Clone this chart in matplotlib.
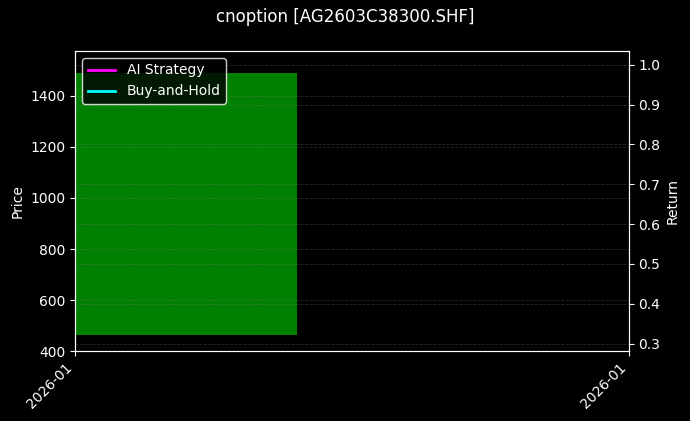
import numpy as np
import matplotlib
matplotlib.use("Agg")
import matplotlib.pyplot as plt
import matplotlib.dates as mdates
from datetime import datetime, timedelta

symbol = "AG2603C38300.SHF"
dates = [datetime(2026, 1, 5)]
opens = [465.0]
closes = [1490.0]
ai_returns = []
bh_returns = []

plt.style.use("dark_background")
fig, ax = plt.subplots(figsize=(6.9, 4.21), dpi=100)
fig.subplots_adjust(left=0.109, right=0.911, top=0.879, bottom=0.166)

x = mdates.date2num(dates)
lo = np.minimum(opens, closes)
hi = np.maximum(opens, closes)
ax.bar(x, hi - lo, bottom=lo, width=0.8, color="green")
ax.set_ylabel("Price")
ax.set_ylim(400, 1576)
ax.grid(True, linestyle="--", color="gray", alpha=0.3, linewidth=0.6)

ax2 = ax.twinx()
ax2.plot(dates[:len(ai_returns)], ai_returns, color="magenta", linewidth=2, label="AI Strategy")
ax2.plot(dates[:len(bh_returns)], bh_returns, color="cyan", linewidth=2, label="Buy-and-Hold")
ax2.set_ylabel("Return")
ax2.set_ylim(0.281, 1.035)
ax2.grid(True, linestyle="--", color="gray", alpha=0.3, linewidth=0.6)

x0 = x[0]
ax.set_xlim(x0, x0 + 1)
ax.set_xticks([x0, x0 + 1])
ax.xaxis.set_major_formatter(mdates.DateFormatter("%Y-%m"))
plt.setp(ax.get_xticklabels(), rotation=45, ha="right")

ax2.legend(loc="upper left", edgecolor="white")
fig.suptitle(f"cnoption [{symbol}]", fontsize=12)

fig.savefig("out.png", dpi=100)
